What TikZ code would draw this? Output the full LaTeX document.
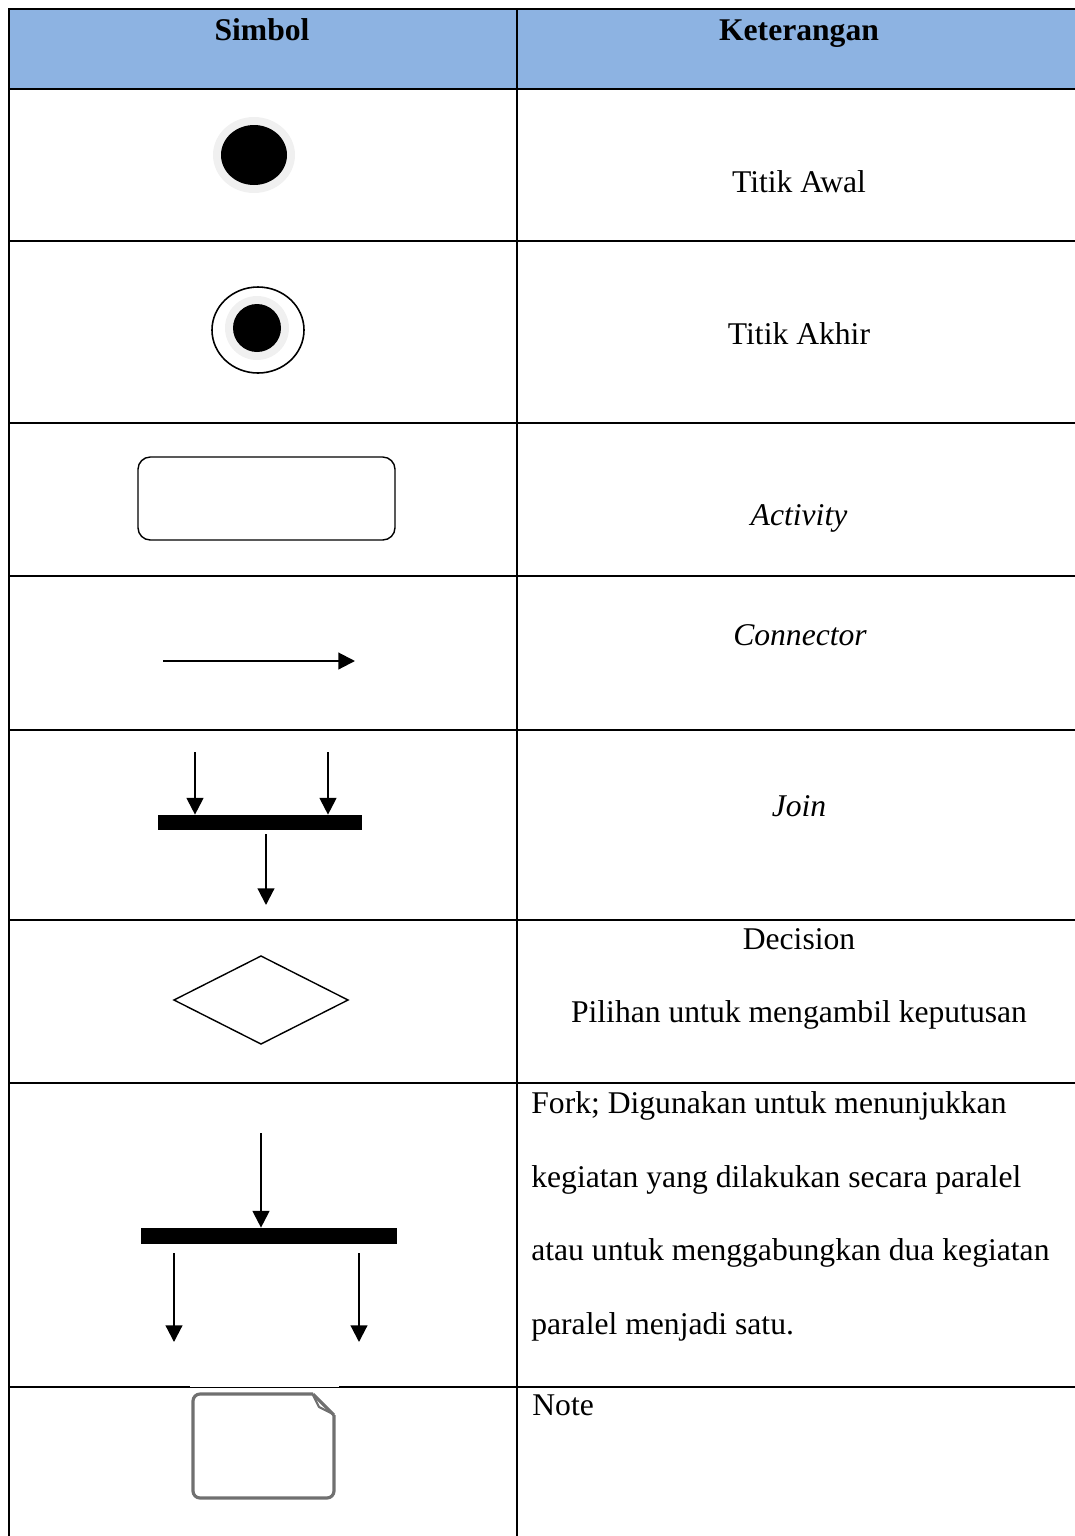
\documentclass[tikz,border=0pt]{standalone}
\usepackage{fontspec}
\setmainfont{Liberation Serif}
\usetikzlibrary{arrows.meta}
\definecolor{headblue}{HTML}{8DB3E2}
\definecolor{halo}{HTML}{F0F0F0}
\definecolor{notegray}{HTML}{707070}

\begin{document}
\begin{tikzpicture}[x=0.02cm,y=-0.02cm,
	grid/.style={line width=1.1pt},
	txt/.style={anchor=base,inner sep=0pt,font=\fontsize{18}{21}\selectfont},
	htxt/.style={txt,font=\fontsize{18}{21}\selectfont\bfseries},
	ltxt/.style={txt,anchor=base west},
	flow/.style={line width=1.2pt,-{Triangle[length=9.5pt,width=9.5pt]}},
	barbox/.style={fill=black,inner sep=0pt}]
	\useasboundingbox (0,0) rectangle (1075,1536);
	% table
	\fill[headblue] (9,9) rectangle (1075,89);
	\draw[grid] (1075,9) -- (9,9) -- (9,1536);
	\draw[grid] (517,9) -- (517,1536);
	\draw[grid] (9,89) -- (1075,89);
	\draw[grid] (9,241) -- (1075,241);
	\draw[grid] (9,423) -- (1075,423);
	\draw[grid] (9,576) -- (1075,576);
	\draw[grid] (9,730) -- (1075,730);
	\draw[grid] (9,920) -- (1075,920);
	\draw[grid] (9,1083) -- (1075,1083);
	\draw[grid] (9,1387) -- (1075,1387);
	\fill[white] (190,1384) rectangle (339,1386.5);
	\node[htxt] (hsimbol) at (262,40) {Simbol};
	\node[htxt] (hket) at (799,40) {Keterangan};
	% titik awal
	\fill[halo] (254,155) ellipse [x radius=41, y radius=38];
	\fill[black] (254,155) ellipse [x radius=33, y radius=30];
	\node[txt] (awal) at (799,192) {Titik Awal};
	% titik akhir
	\draw[line width=0.9pt] (258,330) ellipse [x radius=46, y radius=43];
	\fill[halo] (257,328) circle [radius=32];
	\fill[black] (257,328) circle [radius=24];
	\node[txt] (akhir) at (799,344) {Titik Akhir};
	% activity
	\draw[line width=0.8pt,rounded corners=7pt] (138,457) rectangle (395,540);
	\node[txt] (act) at (799,525) {\itshape Activity};
	% connector
	\coordinate (c1) at (163,661);
	\coordinate (c2) at (355,661);
	\draw[flow] (c1) -- (c2);
	\node[txt] (conn) at (800,645) {\itshape Connector};
	% join
	\node[barbox,minimum width=4.08cm,minimum height=0.3cm] (jbar) at (260,822.5) {};
	\coordinate (j1) at (195,752);
	\coordinate (j2) at (328,752);
	\coordinate (j3) at (266,834);
	\coordinate (j4) at (266,905);
	\draw[flow] (j1) -- (j1 |- jbar.north);
	\draw[flow] (j2) -- (j2 |- jbar.north);
	\draw[flow] (j3) -- (j4);
	\node[txt] (join) at (799,816) {\itshape Join};
	% decision
	\draw[line width=0.8pt] (174,1000) -- (261,956) -- (348,1000) -- (261,1044) -- cycle;
	\node[txt] (dec) at (799,949) {Decision};
	\node[txt] (pilih) at (799,1022) {Pilihan untuk mengambil keputusan};
	% fork
	\node[barbox,minimum width=5.12cm,minimum height=0.32cm] (fbar) at (269,1236) {};
	\coordinate (f1) at (261,1133);
	\coordinate (f2) at (174,1253);
	\coordinate (f3) at (174,1342);
	\coordinate (f4) at (359,1253);
	\coordinate (f5) at (359,1342);
	\draw[flow] (f1) -- (f1 |- fbar.north);
	\draw[flow] (f2) -- (f3);
	\draw[flow] (f4) -- (f5);
	\node[ltxt] (fork1) at (531,1113) {Fork; Digunakan untuk menunjukkan};
	\node[ltxt] (fork2) at (531,1187) {kegiatan yang dilakukan secara paralel};
	\node[ltxt] (fork3) at (531,1260) {atau untuk menggabungkan dua kegiatan};
	\node[ltxt] (fork4) at (531,1334) {paralel menjadi satu.};
	% note
	\draw[notegray,line width=1.8pt,rounded corners=4pt] (313,1394) -- (193,1394) -- (193,1498) -- (334,1498) -- (334,1415);
	\draw[notegray,line width=1.8pt,line join=round] (313,1394) -- (334,1415);
	\draw[notegray,line width=1.2pt,line join=round] (313,1395) -- (319,1407) -- (333,1414);
	\node[ltxt] (note) at (532,1415) {Note};
\end{tikzpicture}
\end{document}
